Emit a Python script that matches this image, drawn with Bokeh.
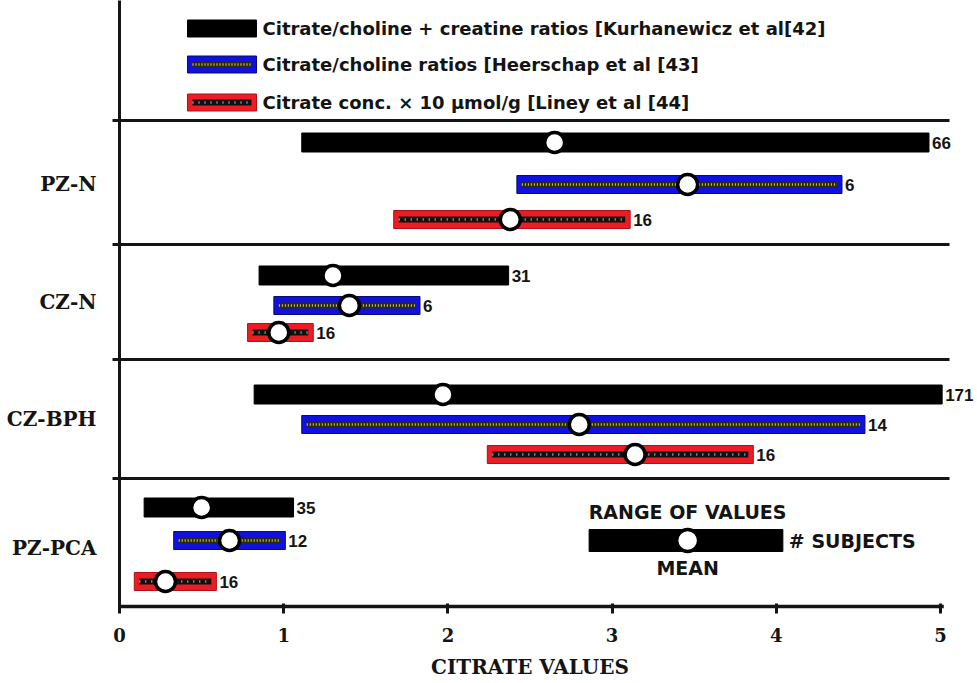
from bokeh.plotting import figure
from bokeh.models import Range1d, LinearAxis, FixedTicker, ColumnDataSource
from bokeh.core.properties import value
from bokeh.embed import file_html
from bokeh.resources import INLINE

# ---------------- data ----------------
groups = ["PZ-N", "CZ-N", "CZ-BPH", "PZ-PCA"]
series_labels = [
    "Citrate/choline + creatine ratios [Kurhanewicz et al[42]",
    "Citrate/choline ratios [Heerschap et al [43]",
    "Citrate conc. \u00d7 10 \u00b5mol/g [Liney et al [44]",
]
kur_low = [1.11, 0.85, 0.82, 0.15]
kur_high = [4.93, 2.37, 5.01, 1.06]
kur_mean = [2.65, 1.30, 1.97, 0.50]
kur_n = [66, 31, 171, 35]

hee_low = [2.42, 0.94, 1.11, 0.33]
hee_high = [4.40, 1.83, 4.54, 1.01]
hee_mean = [3.46, 1.40, 2.80, 0.67]
hee_n = [6, 6, 14, 12]

lin_low = [1.67, 0.78, 2.24, 0.09]
lin_high = [3.11, 1.18, 3.86, 0.59]
lin_mean = [2.38, 0.97, 3.14, 0.28]
lin_n = [16, 16, 16, 16]

x_ticks = [0, 1, 2, 3, 4, 5]
x_title = "CITRATE VALUES"
key_texts = ["RANGE OF VALUES", "MEAN", "# SUBJECTS"]
key_example = [2.86, 3.46, 4.04]  # low, mean, high of the explanatory key bar

# ---------------- layout (screen-like units on y) ----------------
PX = 164.2                     # pixels per citrate unit
FRAME_LEFT = 119
FIG_W, FIG_H = 977, 683
FRAME_W = FIG_W - FRAME_LEFT
ROW_Y = [[142, 275, 394, 507],  # Kurhanewicz rows
         [184, 305, 424, 540],  # Heerschap rows
         [219, 332, 454, 581]]  # Liney rows
GROUP_LABEL_Y = [183, 301, 418, 547]
SEP_Y = [120, 244, 359, 478]
LEG_Y = [28, 64, 102]
KEY_Y = [511, 540, 567]
FRAME_BOTTOM = 609

p = figure(width=FIG_W, height=FIG_H,
           x_range=Range1d(0, FRAME_W / PX), y_range=Range1d(FRAME_BOTTOM, 0),
           output_backend="svg", toolbar_location=None,
           x_axis_location=None, y_axis_location=None,
           min_border_left=FRAME_LEFT, min_border_right=0,
           min_border_top=0, min_border_bottom=FIG_H - FRAME_BOTTOM,
           outline_line_color=None, background_fill_color="white",
           border_fill_color="white")
p.xgrid.visible = False
p.ygrid.visible = False

INK = "#141414"
SANS = value("DejaVu Sans")
NUMF = value("Liberation Sans")

styles = [
    dict(fill="#000000", line="#000000", h=19, inner=None),
    dict(fill="#1010e0", line="#0a0a70", h=18, inner=("#2a2a10", "#d6cc6a", "1 2")),
    dict(fill="#ec1c24", line="#b01018", h=18, inner=("#101010", "#b0b0b0", "1 5")),
]


def draw_bar(src, st):
    p.hbar(y="y", left="left", right="right", height=st["h"], source=src,
           fill_color=st["fill"], line_color=st["line"], line_width=1)
    if st["inner"]:
        dark, light, dash = st["inner"]
        p.segment(x0="il", y0="y", x1="ir", y1="y", source=src,
                  line_color=dark, line_width=6)
        p.segment(x0="il", y0="y", x1="ir", y1="y", source=src,
                  line_color=light, line_width=2.5, line_dash=dash)


inset = 5 / PX
all_series = [(kur_low, kur_high, kur_mean, kur_n),
              (hee_low, hee_high, hee_mean, hee_n),
              (lin_low, lin_high, lin_mean, lin_n)]

for s, (lo, hi, mu, n) in enumerate(all_series):
    src = ColumnDataSource(dict(
        y=ROW_Y[s], left=lo, right=hi, mean=mu, n=[str(v) for v in n],
        il=[v + inset for v in lo], ir=[v - inset for v in hi]))
    draw_bar(src, styles[s])
    p.scatter(x="mean", y="y", source=src, size=20, marker="circle",
              fill_color="white", line_color="black", line_width=3.5)
    p.text(x="right", y="y", text="n", source=src, x_offset=3,
           text_baseline="middle", text_align="left", text_font=NUMF,
           text_font_style="bold", text_font_size="17px", text_color=INK)

# ---------------- top legend (drawn swatches) ----------------
leg_x0, leg_x1 = 68 / PX, 137 / PX
for s in range(3):
    src = ColumnDataSource(dict(y=[LEG_Y[s]], left=[leg_x0], right=[leg_x1],
                                il=[leg_x0 + inset], ir=[leg_x1 - inset]))
    draw_bar(src, dict(styles[s], h=17))
    p.text(x=[leg_x1], y=[LEG_Y[s]], text=[series_labels[s]], x_offset=6,
           text_baseline="middle", text_align="left", text_font=SANS,
           text_font_style="bold", text_font_size="18px", text_color=INK)

# ---------------- separators and axis line ----------------
sep_end = 830 / PX
p.segment(x0=[0] * len(SEP_Y), y0=SEP_Y, x1=[sep_end] * len(SEP_Y), y1=SEP_Y,
          line_color=INK, line_width=3)
p.segment(x0=[0], y0=[606], x1=[x_ticks[-1] + 0.02], y1=[606],
          line_color=INK, line_width=3.5)

# ---------------- explanatory key ----------------
klo, kmu, khi = key_example
p.hbar(y=[KEY_Y[1]], left=[klo], right=[khi], height=22,
       fill_color="black", line_color="black")
p.scatter(x=[kmu], y=[KEY_Y[1]], size=22, marker="circle",
          fill_color="white", line_color="black", line_width=3.5)
p.text(x=[kmu, kmu], y=[KEY_Y[0], KEY_Y[2]], text=[key_texts[0], key_texts[1]],
       text_align="center", text_baseline="middle", text_font=SANS,
       text_font_style="bold", text_font_size="19px", text_color=INK)
p.text(x=[khi], y=[KEY_Y[1]], text=[key_texts[2]], x_offset=6,
       text_align="left", text_baseline="middle", text_font=SANS,
       text_font_style="bold", text_font_size="19px", text_color=INK)

# ---------------- axes ----------------
yax = LinearAxis(
    ticker=FixedTicker(ticks=GROUP_LABEL_Y, minor_ticks=SEP_Y),
    major_label_overrides={y: g for y, g in zip(GROUP_LABEL_Y, groups)},
    axis_line_color=INK, axis_line_width=3,
    major_tick_line_color=None, major_tick_in=0, major_tick_out=0,
    minor_tick_line_color=INK, minor_tick_line_width=3,
    minor_tick_in=0, minor_tick_out=7,
    major_label_standoff=16,
    major_label_text_font="DejaVu Serif", major_label_text_font_style="bold",
    major_label_text_font_size="20px", major_label_text_color=INK)
p.add_layout(yax, "left")

xax = LinearAxis(
    ticker=FixedTicker(ticks=x_ticks),
    axis_line_color=None,
    major_tick_line_color=INK, major_tick_line_width=3,
    major_tick_in=6, major_tick_out=4,
    minor_tick_line_color=None,
    major_label_standoff=14,
    major_label_text_font="DejaVu Serif", major_label_text_font_style="bold",
    major_label_text_font_size="18px", major_label_text_color=INK)
p.add_layout(xax, "below")

xlab = LinearAxis(
    ticker=FixedTicker(ticks=[x_ticks[-1] / 2]),
    major_label_overrides={x_ticks[-1] / 2: x_title},
    axis_line_color=None, major_tick_line_color=None,
    major_tick_in=0, major_tick_out=0, minor_tick_line_color=None,
    major_label_standoff=10,
    major_label_text_font="DejaVu Serif", major_label_text_font_style="bold",
    major_label_text_font_size="20px", major_label_text_color=INK)
p.add_layout(xlab, "below")

open("out.html", "w").write(file_html(p, INLINE))
